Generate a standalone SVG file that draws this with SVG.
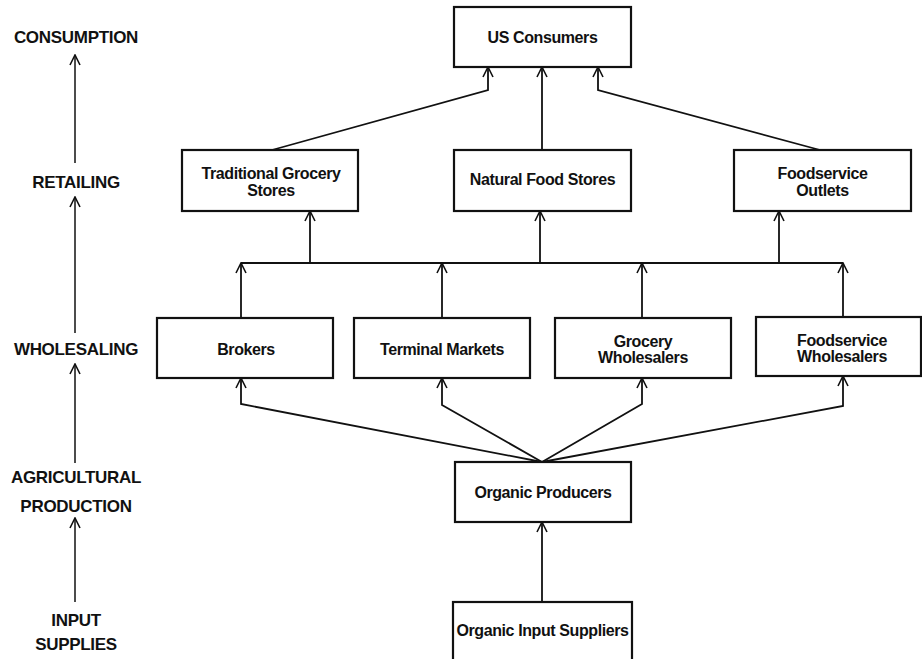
<svg xmlns="http://www.w3.org/2000/svg" width="922" height="659" viewBox="0 0 922 659">
<style>
.box{fill:#fff;stroke:#111;stroke-width:2.2}
.nt{font-family:"Liberation Sans",Arial,sans-serif;font-weight:bold;font-size:16px;fill:#111;text-anchor:middle;letter-spacing:-0.4px}
.lab{font-family:"Liberation Sans",Arial,sans-serif;font-weight:bold;font-size:17px;fill:#111;text-anchor:middle;letter-spacing:-0.3px}
.c{fill:none;stroke:#111;stroke-width:1.8;marker-end:url(#arr)}
.cn{fill:none;stroke:#111;stroke-width:1.8}
.la{fill:none;stroke:#111;stroke-width:1.5;marker-end:url(#arr)}
</style>
<defs>
<marker id="arr" viewBox="0 0 12 12" refX="11" refY="6" markerWidth="12" markerHeight="12" markerUnits="userSpaceOnUse" orient="auto">
<path d="M1,1 L11,6 L1,11" fill="none" stroke="#111" stroke-width="1.6"/>
</marker>
</defs>
<rect width="922" height="659" fill="#fff"/>
<g id="stages">
<text class="lab" x="76" y="43">CONSUMPTION</text>
<text class="lab" x="76" y="188">RETAILING</text>
<text class="lab" x="76" y="355">WHOLESALING</text>
<text class="lab" x="76" y="483">AGRICULTURAL</text>
<text class="lab" x="76" y="512">PRODUCTION</text>
<text class="lab" x="76" y="626">INPUT</text>
<text class="lab" x="76" y="650">SUPPLIES</text>
<path class="la" d="M75,163 L75,55"/>
<path class="la" d="M75,333 L75,197"/>
<path class="la" d="M75,463 L75,364"/>
<path class="la" d="M75,602 L75,518"/>
</g>
<g id="connectors">
<path class="c" d="M272,150 L488,90 L488,67"/>
<path class="c" d="M542,150 L542,67"/>
<path class="c" d="M820,150 L598,90 L598,67"/>
<path class="cn" d="M241,263 L843,263"/>
<path class="c" d="M310,263 L310,211"/>
<path class="c" d="M540,263 L540,211"/>
<path class="c" d="M779,263 L779,211"/>
<path class="c" d="M241,318 L241,263"/>
<path class="c" d="M442,318 L442,263"/>
<path class="c" d="M642,318 L642,263"/>
<path class="c" d="M843,317 L843,263"/>
<path class="c" d="M542,462 L241,404 L241,378"/>
<path class="c" d="M542,462 L442,405 L442,378"/>
<path class="c" d="M542,462 L642,404 L642,378"/>
<path class="c" d="M542,462 L843,406 L843,376"/>
<path class="c" d="M542,602 L542,522"/>
</g>
<g id="us-consumers"><rect class="box" x="454" y="7" width="177" height="60"/><text class="nt" x="542.5" y="43">US Consumers</text></g>
<g id="traditional-grocery"><rect class="box" x="182" y="150" width="176" height="61"/><text class="nt" x="271" y="179">Traditional Grocery</text><text class="nt" x="271" y="196">Stores</text></g>
<g id="natural-food"><rect class="box" x="454" y="150" width="177" height="61"/><text class="nt" x="542.5" y="185">Natural Food Stores</text></g>
<g id="foodservice-outlets"><rect class="box" x="734" y="150" width="177" height="61"/><text class="nt" x="822.5" y="179">Foodservice</text><text class="nt" x="822.5" y="196">Outlets</text></g>
<g id="brokers"><rect class="box" x="157" y="318" width="176" height="60"/><text class="nt" x="246" y="355">Brokers</text></g>
<g id="terminal-markets"><rect class="box" x="354" y="318" width="176" height="60"/><text class="nt" x="442" y="355">Terminal Markets</text></g>
<g id="grocery-wholesalers"><rect class="box" x="555" y="318" width="176" height="60"/><text class="nt" x="643" y="347">Grocery</text><text class="nt" x="643" y="363">Wholesalers</text></g>
<g id="foodservice-wholesalers"><rect class="box" x="756" y="317" width="165" height="59"/><text class="nt" x="842" y="346">Foodservice</text><text class="nt" x="842" y="362">Wholesalers</text></g>
<g id="organic-producers"><rect class="box" x="455" y="462" width="176" height="60"/><text class="nt" x="543" y="498">Organic Producers</text></g>
<g id="organic-input-suppliers"><rect class="box" x="453" y="602" width="179" height="70"/><text class="nt" x="542.5" y="636">Organic Input Suppliers</text></g>
</svg>
